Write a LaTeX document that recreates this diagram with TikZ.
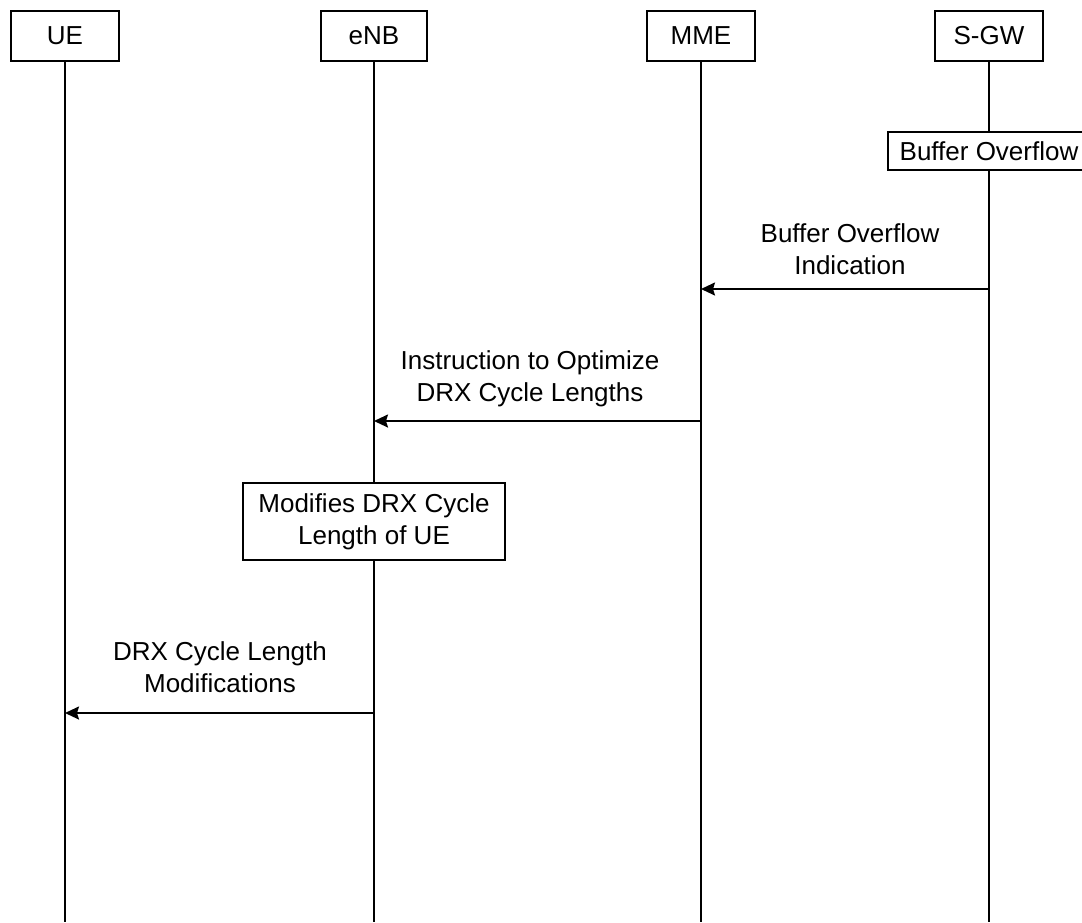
\documentclass[tikz,border=0pt]{standalone}
\usepackage{fontspec}
\setmainfont{Liberation Sans}
\usetikzlibrary{arrows.meta}
\begin{document}
\begin{tikzpicture}[x=1pt,y=-1pt,
  every node/.style={font=\fontsize{26}{32}\selectfont},
  entity/.style={draw,line width=2pt,fill=white,minimum width=108pt,minimum height=50pt,inner sep=0pt},
  actbox/.style={draw,line width=2pt,fill=white,align=center,inner sep=0pt},
  lifeline/.style={line width=2pt},
  msg/.style={line width=2pt,-{Stealth[length=14pt,width=13pt,inset=2pt]}},
  lbl/.style={align=center,inner sep=0pt}]
\useasboundingbox (0,0) rectangle (1082,922);
% entities
\node[entity] (ue)  at (65,36)  {UE};
\node[entity,minimum width=106pt] (enb) at (374,36) {eNB};
\node[entity] (mme) at (701,36) {MME};
\node[entity] (sgw) at (989,36) {S-GW};
% activity boxes
\node[actbox,minimum width=202pt,minimum height=38pt] (bof) at (989,151) {Buffer Overflow};
\node[actbox,minimum width=262pt,minimum height=77pt] (mod) at (374,521.5) {Modifies DRX Cycle\\Length of UE};
% bottom ends of lifelines
\coordinate (ueb)  at (65,922);
\coordinate (enbb) at (374,922);
\coordinate (mmeb) at (701,922);
\coordinate (sgwb) at (989,922);
% lifelines
\draw[lifeline] (ue.south) -- (ueb);
\draw[lifeline] (enb.south) -- (mod.north);
\draw[lifeline] (mod.south) -- (enbb);
\draw[lifeline] (mme.south) -- (mmeb);
\draw[lifeline] (sgw.south) -- (bof.north);
\draw[lifeline] (bof.south) -- (sgwb);
% message endpoints
\coordinate (m1s) at (989,289);
\coordinate (m1e) at (701,289);
\coordinate (m2s) at (701,421);
\coordinate (m2e) at (374,421);
\coordinate (m3s) at (374,713);
\coordinate (m3e) at (65,713);
% messages
\draw[msg] (m1s) -- (m1e);
\draw[msg] (m2s) -- (m2e);
\draw[msg] (m3s) -- (m3e);
% labels (base = baseline of last line)
\node[lbl,anchor=base] (l1) at (850,274) {Buffer Overflow\\Indication};
\node[lbl,anchor=base] (l2) at (530,401) {Instruction to Optimize\\DRX Cycle Lengths};
\node[lbl,anchor=base] (l3) at (220,692) {DRX Cycle Length\\Modifications};
\end{tikzpicture}
\end{document}
